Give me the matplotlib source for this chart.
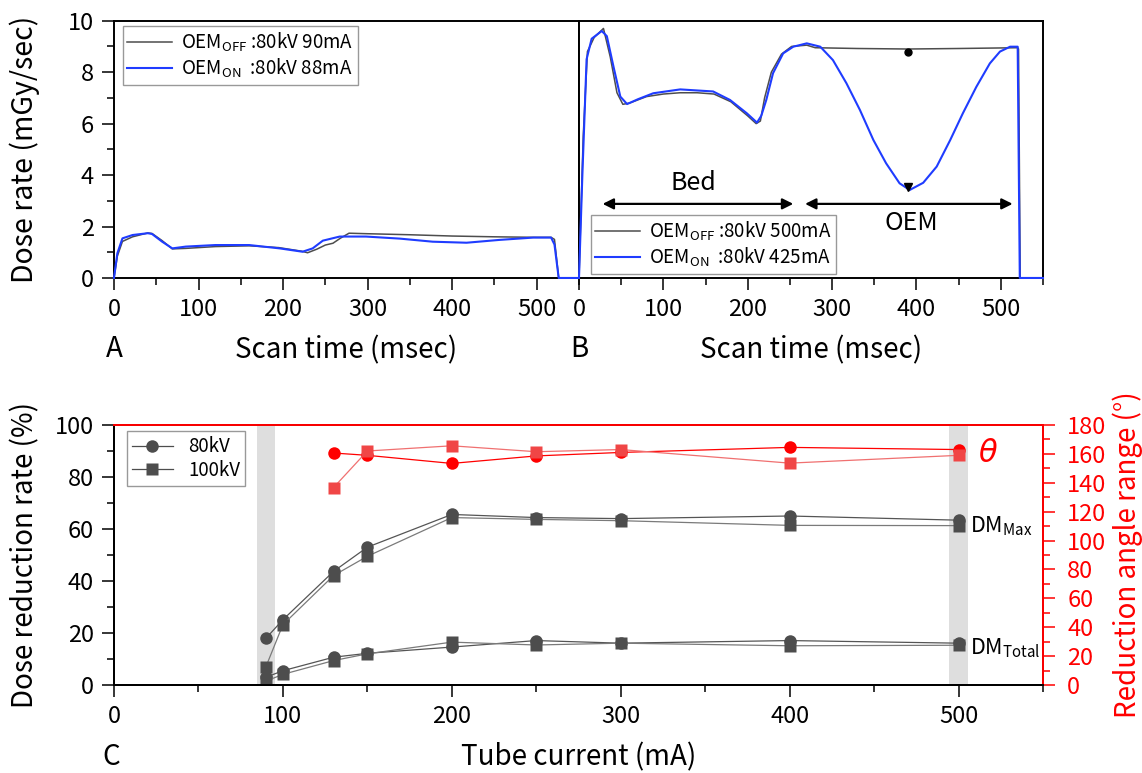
import matplotlib
matplotlib.use("Agg")
import matplotlib.pyplot as plt
from matplotlib.ticker import MultipleLocator

plt.rcParams['font.family'] = ['Noto Sans CJK JP', 'DejaVu Sans']
plt.rcParams['mathtext.fontset'] = 'custom'
plt.rcParams['mathtext.rm'] = 'Noto Sans CJK JP'
plt.rcParams['mathtext.it'] = 'Noto Sans CJK JP'
plt.rcParams['axes.linewidth'] = 1.4

GRAY = '#4d4d4d'
BLUE = '#1f3cff'
RED = '#ff0000'
RED_SQ = '#f04646'

# --- A: 80kV, 90mA / 88mA ---
tA_off = [0, 4, 10, 22, 40, 45, 57, 69, 85, 120, 160, 195, 222, 229, 240, 250, 259,
          268, 278, 300, 350, 400, 450, 500, 517, 521, 526, 550]
vA_off = [0, 0.85, 1.42, 1.60, 1.75, 1.73, 1.45, 1.13, 1.15, 1.22, 1.25, 1.18, 1.04, 0.98,
          1.12, 1.28, 1.35, 1.55, 1.74, 1.72, 1.68, 1.63, 1.60, 1.58, 1.58, 1.50, 0, 0]
tA_on = [0, 4, 10, 22, 40, 45, 57, 69, 85, 120, 160, 196, 223, 235, 247, 267, 298,
         338, 377, 417, 456, 496, 517, 521, 526, 550]
vA_on = [0, 0.96, 1.54, 1.67, 1.74, 1.71, 1.41, 1.15, 1.22, 1.28, 1.28, 1.15, 1.02, 1.15,
         1.45, 1.61, 1.61, 1.53, 1.41, 1.37, 1.48, 1.57, 1.57, 1.30, 0, 0]

# --- B: 80kV, 500mA / 425mA ---
tB_off = [0, 5, 10, 18, 29, 37, 45, 52, 60, 80, 100, 120, 140, 160, 180, 200, 210, 215,
          220, 228, 240, 252, 270, 280, 330, 390, 450, 520, 521, 523, 550]
vB_off = [0, 5.5, 8.8, 9.35, 9.7, 8.6, 7.2, 6.75, 6.8, 7.05, 7.15, 7.2, 7.2, 7.15, 6.85,
          6.3, 6.0, 6.1, 7.0, 8.0, 8.7, 9.0, 9.05, 8.95, 8.92, 8.9, 8.92, 8.95, 8.9, 0, 0]
tB_on = [0, 4, 9, 15, 27, 33, 41, 49, 57, 70, 88, 120, 159, 179, 199, 211, 216, 222, 230,
         242, 254, 270, 286, 301, 317, 333, 349, 364, 380, 392, 408, 424, 440, 455, 471,
         487, 499, 511, 520, 522.5, 550]
vB_on = [0, 4.0, 8.5, 9.3, 9.6, 9.4, 8.2, 7.05, 6.76, 6.95, 7.18, 7.33, 7.25, 6.92, 6.4,
         6.04, 6.3, 6.92, 7.96, 8.73, 8.99, 9.12, 8.99, 8.47, 7.57, 6.53, 5.36, 4.46, 3.68,
         3.42, 3.7, 4.33, 5.36, 6.4, 7.43, 8.34, 8.8, 8.99, 8.99, 0, 0]
t_mark = 390
v_off_mark = 8.8
v_on_mark = 3.55

# --- C: dose reduction vs tube current ---
current = [90, 100, 130, 150, 200, 250, 300, 400, 500]
dm_max_80 = [18, 25.1, 43.7, 53, 65.6, 64.4, 64.0, 65.0, 63.4]
dm_max_100 = [7.1, 23.2, 42.1, 49.5, 64.4, 63.7, 63.2, 61.4, 61.3]
dm_total_80 = [3.0, 5.5, 10.7, 12.2, 14.6, 17.1, 16.1, 17.1, 16.1]
dm_total_100 = [1.5, 4.1, 9.4, 12.0, 16.5, 15.4, 16.1, 15.1, 15.3]
current_theta = [130, 150, 200, 250, 300, 400, 500]
theta_80 = [160.6, 159, 153.4, 158.6, 161, 164.5, 163]
theta_100 = [136.7, 162, 165.6, 161.5, 163, 153.6, 159]

fig = plt.figure(figsize=(11.42, 7.73), dpi=100)
axA = fig.add_axes([0.0998, 0.6404, 0.4072, 0.3328])
axB = fig.add_axes([0.5070, 0.6404, 0.4063, 0.3328])
axC = fig.add_axes([0.0998, 0.1138, 0.8135, 0.3364])


def style_ticks(ax, color='black', pad=6):
    ax.tick_params(which='major', direction='out', length=8.5, width=1.1,
                   labelsize=17, pad=pad, colors=color)
    ax.tick_params(which='minor', direction='out', length=5, width=1.1, colors=color)


leg_kw = dict(borderaxespad=0, fontsize=13.5, fancybox=False, edgecolor='#999999',
              framealpha=1, handlelength=2.4, handletextpad=0.45, borderpad=0.25,
              labelspacing=0.15)

for ax in (axA, axB):
    ax.set_xlim(0, 550)
    ax.set_ylim(0, 10)
    ax.xaxis.set_major_locator(MultipleLocator(100))
    ax.xaxis.set_minor_locator(MultipleLocator(50))
    style_ticks(ax)
    ax.set_xlabel("Scan time (msec)", fontsize=20)
    ax.xaxis.set_label_coords(0.5, -0.28)
    ax.xaxis.label.set_va('center')

axA.yaxis.set_major_locator(MultipleLocator(2))
axA.yaxis.set_minor_locator(MultipleLocator(1))
axA.set_ylabel("Dose rate (mGy/sec)", fontsize=20.5)
axA.yaxis.set_label_coords(-0.191, 0.5)
axA.yaxis.label.set_va('center')
axB.tick_params(axis='y', which='both', left=False, labelleft=False)

# traces are left unclipped so the zero baseline shows over the bottom spine
axA.plot(tA_off, vA_off, color=GRAY, lw=1.1, zorder=3, clip_on=False,
         label=r"OEM$_{\mathrm{OFF}}$ :80kV 90mA")
axA.plot(tA_on, vA_on, color=BLUE, lw=1.5, zorder=3, clip_on=False,
         label=r"OEM$_{\mathrm{ON}}$  :80kV 88mA")
axA.legend(loc='upper left', bbox_to_anchor=(0.019, 0.979), **leg_kw)

axB.plot(tB_off, vB_off, color=GRAY, lw=1.1, zorder=3, clip_on=False,
         label=r"OEM$_{\mathrm{OFF}}$ :80kV 500mA")
axB.plot(tB_on, vB_on, color=BLUE, lw=1.5, zorder=3, clip_on=False,
         label=r"OEM$_{\mathrm{ON}}$  :80kV 425mA")
axB.plot([t_mark], [v_off_mark], 'o', color='black', ms=5, zorder=5)
axB.plot([t_mark], [v_on_mark], 'v', color='black', ms=6, zorder=5)
axB.legend(loc='lower left', bbox_to_anchor=(0.025, 0.016), **leg_kw)

arrow = dict(arrowstyle='<|-|>', color='black', lw=1.6, mutation_scale=16,
             shrinkA=0, shrinkB=0)
axB.annotate('', xy=(28, 2.88), xytext=(254, 2.88), arrowprops=arrow)
axB.annotate('', xy=(268, 2.88), xytext=(514, 2.88), arrowprops=arrow)
axB.text(135, 3.68, "Bed", fontsize=18, ha='center', va='center')
axB.text(394, 2.13, "OEM", fontsize=18, ha='center', va='center')

fig.text(0.0998, 1 - 349 / 773, "A", fontsize=20, ha='center', va='center')
fig.text(0.5070, 1 - 349 / 773, "B", fontsize=20, ha='center', va='center')
fig.text(0.0972, 1 - 757 / 773, "C", fontsize=20, ha='center', va='center')

# --- panel C ---
axC.set_xlim(0, 550)
axC.set_ylim(0, 100)
axC.xaxis.set_major_locator(MultipleLocator(100))
axC.xaxis.set_minor_locator(MultipleLocator(50))
axC.yaxis.set_major_locator(MultipleLocator(20))
axC.yaxis.set_minor_locator(MultipleLocator(10))
style_ticks(axC)
axC.set_xlabel("Tube current (mA)", fontsize=20)
axC.xaxis.set_label_coords(0.5, -0.277)
axC.xaxis.label.set_va('center')
axC.set_ylabel("Dose reduction rate (%)", fontsize=20)
axC.yaxis.set_label_coords(-0.0958, 0.5)
axC.yaxis.label.set_va('center')

axC.axvspan(84.5, 95.5, color='#dedede', zorder=0, lw=0)
axC.axvspan(494.3, 505.7, color='#dedede', zorder=0, lw=0)

mk = dict(ms=9, mec='none')
axC.plot(current, dm_max_80, '-o', color='#555555', mfc=GRAY, lw=0.9, **mk,
         label='80kV')
axC.plot(current, dm_max_100, '-s', color='#7a7a7a', mfc=GRAY, lw=0.9, **mk,
         label='100kV')
axC.plot(current, dm_total_80, '-o', color='#555555', mfc=GRAY, lw=0.9, **mk)
axC.plot(current, dm_total_100, '-s', color='#7a7a7a', mfc=GRAY, lw=0.9, **mk)
leg = axC.legend(loc='upper left', bbox_to_anchor=(0.014, 0.975), borderaxespad=0,
                 fontsize=13.5, fancybox=False, edgecolor='#999999', framealpha=1,
                 handlelength=2.2, borderpad=0.25, labelspacing=0.15)
for h in leg.legend_handles:
    h.set_color(GRAY)
    h.set_markerfacecolor(GRAY)

axC.text(507, 61, r"DM$_{\mathrm{Max}}$", fontsize=15.5, ha='left', va='center')
axC.text(507, 14, r"DM$_{\mathrm{Total}}$", fontsize=15.5, ha='left', va='center')

axR = axC.twinx()
axR.set_ylim(0, 180)
axR.yaxis.set_major_locator(MultipleLocator(20))
axR.yaxis.set_minor_locator(MultipleLocator(10))
style_ticks(axR, color=RED, pad=9)
axR.tick_params(axis='y', labelcolor=RED)
axR.spines['right'].set_color(RED)
axR.spines['top'].set_color(RED)
axR.set_ylabel("Reduction angle range (°)", fontsize=20, color=RED)
axR.yaxis.set_label_coords(1.0915, 0.5)
axR.yaxis.label.set_va('center')

axR.plot(current_theta, theta_80, '-o', color=RED, mfc=RED, lw=0.9, **mk)
axR.plot(current_theta, theta_100, '-s', color='#f07070', mfc=RED_SQ, lw=0.9, **mk)
axR.text(512, 160, "θ", fontsize=22, color=RED, style='italic',
         family='DejaVu Sans', ha='left', va='center')

fig.savefig("out.png", dpi=100)
